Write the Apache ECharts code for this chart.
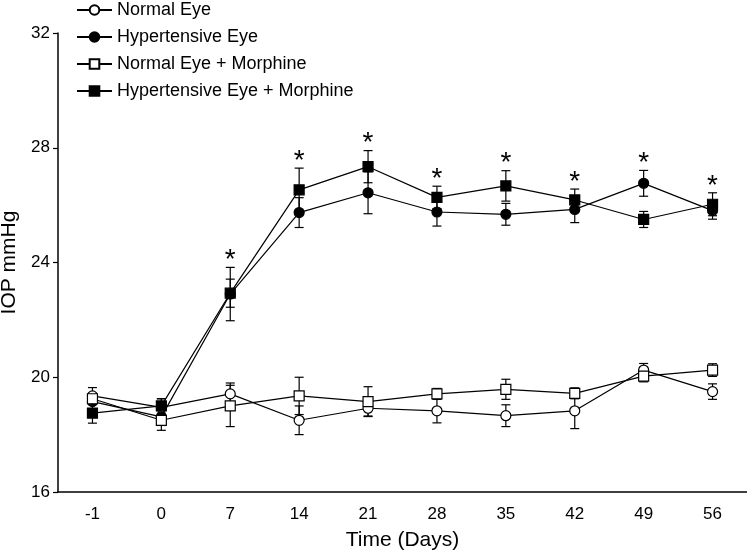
<!DOCTYPE html>
<html>
<head>
<meta charset="utf-8">
<script src="https://cdn.jsdelivr.net/npm/echarts@6/dist/echarts.min.js"></script>
<style>html,body{margin:0;padding:0;background:#fff;}#c{width:747px;height:554px;}</style>
</head>
<body>
<div id="c"></div>
<script>
const days = ['-1', '0', '7', '14', '21', '28', '35', '42', '49', '56'];
const yTicks = [16, 20, 24, 28, 32];

const normalEye      = [19.35, 18.95, 19.42, 18.50, 18.92, 18.83, 18.66, 18.83, 20.25, 19.50];
const normalEyeErr   = [0.29, 0.30, 0.38, 0.50, 0.27, 0.42, 0.38, 0.62, 0.23, 0.27];
const hyperEye       = [19.15, 18.62, 22.90, 25.74, 26.43, 25.76, 25.68, 25.85, 26.76, 25.81];
const hyperEyeErr    = [0.25, 0.30, 0.93, 0.52, 0.73, 0.49, 0.38, 0.46, 0.45, 0.30];
const normalMorph    = [19.25, 18.50, 19.00, 19.35, 19.15, 19.42, 19.58, 19.44, 20.04, 20.25];
const normalMorphErr = [0.20, 0.35, 0.72, 0.65, 0.52, 0.19, 0.35, 0.19, 0.20, 0.22];
const hyperMorph     = [18.75, 19.00, 22.93, 26.53, 27.34, 26.27, 26.67, 26.18, 25.50, 26.03];
const hyperMorphErr  = [0.35, 0.25, 0.49, 0.76, 0.56, 0.39, 0.53, 0.38, 0.28, 0.40];
const significant    = [false, false, true, true, true, true, true, true, true, true];

const FONT = "'Liberation Sans', Arial, sans-serif";

function errData(vals, errs) {
  return vals.map((v, i) => [i, v, errs[i]]);
}
function errSeries(vals, errs) {
  return {
    type: 'custom',
    z: 1,
    silent: true,
    data: errData(vals, errs),
    renderItem: function (params, api) {
      const x = api.value(0), v = api.value(1), e = api.value(2);
      const t = api.coord([x, v + e]);
      const b = api.coord([x, v - e]);
      const hw = 4.5;
      const st = { stroke: '#000', lineWidth: 1.2 };
      return {
        type: 'group',
        children: [
          { type: 'line', shape: { x1: t[0], y1: t[1], x2: b[0], y2: b[1] }, style: st },
          { type: 'line', shape: { x1: t[0] - hw, y1: t[1], x2: t[0] + hw, y2: t[1] }, style: st },
          { type: 'line', shape: { x1: b[0] - hw, y1: b[1], x2: b[0] + hw, y2: b[1] }, style: st }
        ]
      };
    }
  };
}
function lineSeries(name, vals, symbol, filled) {
  return {
    name: name,
    type: 'line',
    z: 3,
    data: vals,
    symbol: symbol,
    symbolSize: 10,
    showAllSymbol: true,
    lineStyle: { color: '#000', width: 1.2 },
    itemStyle: { color: filled ? '#000' : '#fff', borderColor: '#000', borderWidth: 1.2, opacity: 1 },
    emphasis: { disabled: true },
    animation: false
  };
}

const starData = days.map((d, i) => [i, Math.max(hyperEye[i] + hyperEyeErr[i], hyperMorph[i] + hyperMorphErr[i]), significant[i] ? 1 : 0]);

const chart = echarts.init(document.getElementById('c'), null, { renderer: 'canvas' });
chart.setOption({
  animation: false,
  backgroundColor: '#fff',
  textStyle: { fontFamily: FONT },
  grid: { left: 58, right: 0, top: 33, bottom: 62, containLabel: false, outerBoundsMode: 'none' },
  legend: {
    orient: 'vertical',
    left: 76,
    top: 1,
    padding: 0,
    itemWidth: 35,
    itemHeight: 12,
    itemGap: 9,
    textStyle: { fontFamily: FONT, fontSize: 18, color: '#000' },
    data: ['Normal Eye', 'Hypertensive Eye', 'Normal Eye + Morphine', 'Hypertensive Eye + Morphine']
  },
  xAxis: {
    type: 'category',
    data: days,
    boundaryGap: true,
    name: 'Time (Days)',
    nameLocation: 'middle',
    nameGap: 38,
    nameTextStyle: { fontFamily: FONT, fontSize: 21, color: '#000' },
    axisLine: { lineStyle: { color: '#000', width: 1.5 } },
    axisTick: { alignWithLabel: true, length: 5, lineStyle: { color: '#000', width: 1.2 } },
    axisLabel: { fontFamily: FONT, fontSize: 17, color: '#000', margin: 14 },
    splitLine: { show: false }
  },
  yAxis: {
    type: 'value',
    min: 16,
    max: 32,
    interval: 4,
    name: 'IOP mmHg',
    nameLocation: 'middle',
    nameGap: 35,
    nameTextStyle: { fontFamily: FONT, fontSize: 21, color: '#000' },
    axisLine: { show: true, lineStyle: { color: '#000', width: 1.5 } },
    axisTick: { show: true, length: 5, lineStyle: { color: '#000', width: 1.2 } },
    axisLabel: { fontFamily: FONT, fontSize: 17, color: '#000', margin: 8,
      formatter: function (v) { return yTicks.indexOf(v) >= 0 ? String(v) : ''; } },
    splitLine: { show: false }
  },
  series: [
    errSeries(normalEye, normalEyeErr),
    errSeries(hyperEye, hyperEyeErr),
    errSeries(normalMorph, normalMorphErr),
    errSeries(hyperMorph, hyperMorphErr),
    lineSeries('Normal Eye', normalEye, 'circle', false),
    lineSeries('Hypertensive Eye', hyperEye, 'circle', true),
    lineSeries('Normal Eye + Morphine', normalMorph, 'rect', false),
    lineSeries('Hypertensive Eye + Morphine', hyperMorph, 'rect', true),
    {
      type: 'custom',
      z: 4,
      silent: true,
      data: starData,
      renderItem: function (params, api) {
        if (!api.value(2)) return null;
        const p = api.coord([api.value(0), api.value(1)]);
        return {
          type: 'text',
          style: { text: '*', x: p[0], y: p[1] - 7, align: 'center', verticalAlign: 'middle',
            fontFamily: FONT, fontSize: 28, fill: '#000' }
        };
      }
    }
  ]
});
</script>
</body>
</html>
